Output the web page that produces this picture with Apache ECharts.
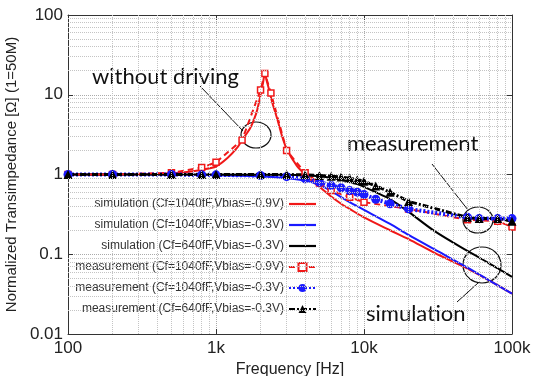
<!DOCTYPE html>
<html><head><meta charset="utf-8">
<script src="https://cdn.jsdelivr.net/npm/echarts@6/dist/echarts.min.js"></script>
<style>html,body{margin:0;padding:0;background:#fff}#c{width:534px;height:376px}</style>
</head><body><div id="c"></div>
<script>
// ---- data ----
const simFreqRed = [100,300,500,700,800,1000,1200,1400,1500,1600,1700,1800,1900,2000,2070,2140,2200,2300,2400,2600,2800,3000,3500,4000,4500,5000,6000,7000,8000,10000,15000,20000,30000,50000,70000,100000];
const simRed     = [1,1.01,1.04,1.1,1.15,1.26,1.62,2.2,2.7,3.2,3.8,4.8,6.5,10,13.5,18.5,15,11,8,4.9,3.0,2.1,1.3,1.0,0.82,0.7,0.53,0.43,0.37,0.29,0.2,0.155,0.104,0.066,0.047,0.032];

const simFreqBlue = [100,500,1000,2000,3000,4000,5000,6000,7000,8000,10000,15000,20000,30000,50000,70000,100000];
const simBlue     = [1,0.995,0.98,0.95,0.9,0.84,0.74,0.62,0.52,0.45,0.36,0.24,0.175,0.115,0.068,0.047,0.032];

const simFreqBlack = [100,1000,3000,5000,7000,9000,10000,12000,15000,20000,30000,50000,70000,100000];
const simBlack     = [1,1,0.99,0.95,0.86,0.76,0.7,0.6,0.49,0.34,0.195,0.11,0.077,0.052];

const measFreqRed = [100,200,500,800,1000,1500,2000,2140,2350,3000,4000,5000,6000,8000,10000,20000,50000,80000,100000];
const measRed     = [1,1,1.05,1.22,1.42,2.7,11.5,18.5,10.5,2.0,1.05,0.78,0.63,0.52,0.45,0.37,0.27,0.26,0.22];

const measFreq = [100,200,500,800,1000,2000,3000,4000,5000,6000,7000,8000,9000,10000,12000,15000,20000,50000,60000,80000,100000];
const measBlue  = [1,1,1,0.99,0.99,0.97,0.94,0.88,0.8,0.73,0.68,0.63,0.6,0.56,0.49,0.43,0.37,0.29,0.28,0.28,0.28];
const measBlack = [1,1,1,1,1,1,1,0.99,0.97,0.95,0.93,0.9,0.86,0.82,0.72,0.6,0.46,0.29,0.28,0.28,0.26];

const xTickLabels = {100:'100',1000:'1k',10000:'10k',100000:'100k'};
const seriesNames = [
  'simulation (Cf=1040fF,Vbias=-0.9V)',
  'simulation (Cf=1040fF,Vbias=-0.3V)',
  'simulation (Cf=640fF,Vbias=-0.3V)',
  'measurement (Cf=1040fF,Vbias=-0.9V)',
  'measurement (Cf=1040fF,Vbias=-0.3V)',
  'measurement (Cf=640fF,Vbias=-0.3V)'
];

// ---- build ----
const pairs = (xs, ys) => xs.map((x, i) => [x, ys[i]]);
const minorX = [], minorY = [];
[100,1000,10000].forEach(d => { for (let k = 2; k <= 9; k++) minorX.push(d*k); });
[0.01,0.1,1,10].forEach(d => { for (let k = 2; k <= 9; k++) minorY.push(+(d*k).toPrecision(3)); });

const RED = '#f01818', BLUE = '#1a1aff', BLACK = '#000';
const FONT = 'Liberation Sans';
const LINE_ICON = 'path://M0,0L27,0L27,2.2L0,2.2Z';

const chart = echarts.init(document.getElementById('c'), null, {renderer:'canvas'});
const axisCommon = {
  type:'log', logBase:10,
  axisLine:{show:true, onZero:false, lineStyle:{color:'#333', width:1}},
  axisTick:{show:true, inside:true, length:5, lineStyle:{color:'#333'}},
};
chart.setOption({
  animation:false,
  backgroundColor:'#fff',
  grid:{left:68, right:22, top:15, bottom:42, containLabel:false, outerBoundsMode:'none'},
  xAxis:[
    Object.assign({}, axisCommon, {
      min:100, max:100000, position:'bottom',
      axisLabel:{fontSize:17, color:'#222', fontFamily:FONT, margin:6,
        formatter: v => xTickLabels[Math.round(v)] || ''},
      splitLine:{show:true, lineStyle:{type:'dotted', color:'#aaa', width:1}},
      name:'Frequency [Hz]', nameLocation:'middle', nameGap:25,
      nameTextStyle:{fontSize:16, color:'#222', fontFamily:FONT}
    }),
    Object.assign({}, axisCommon, {
      min:100, max:100000, position:'top',
      axisLabel:{show:false}, splitLine:{show:false}
    })
  ],
  yAxis:[
    Object.assign({}, axisCommon, {
      min:0.01, max:100, position:'left',
      axisLabel:{fontSize:17, color:'#222', fontFamily:FONT, margin:5},
      splitLine:{show:true, lineStyle:{type:'dotted', color:'#aaa', width:1}},
      name:'Normalized Transimpedance [\u03A9] (1=50M)', nameLocation:'middle', nameGap:30,
      nameTextStyle:{fontSize:15, color:'#222', fontFamily:FONT}
    }),
    Object.assign({}, axisCommon, {
      min:0.01, max:100, position:'right',
      axisLabel:{show:false}, splitLine:{show:false}
    })
  ],
  legend:{
    data:[
      {name:seriesNames[0], icon:LINE_ICON},
      {name:seriesNames[1], icon:LINE_ICON},
      {name:seriesNames[2], icon:LINE_ICON},
      {name:seriesNames[3]},
      {name:seriesNames[4]},
      {name:seriesNames[5]}
    ],
    orient:'vertical', right:217, top:197,
    itemWidth:27, itemHeight:10, itemGap:7, align:'right',
    textStyle:{fontSize:12, lineHeight:14, color:'#333', fontFamily:FONT},
    backgroundColor:'transparent', padding:0
  },
  series:[
    {type:'line', name:'grid', data:[], silent:true,
     markLine:{silent:true, symbol:['none','none'], label:{show:false}, animation:false,
       lineStyle:{type:'dotted', color:'#c4c4c4', width:1},
       data: minorX.map(v => ({xAxis:v})).concat(minorY.map(v => ({yAxis:v})))}},
    {type:'line', name:seriesNames[0], data:pairs(simFreqRed, simRed), smooth:0.3, showSymbol:false, symbol:'none',
     lineStyle:{color:RED, width:2}, itemStyle:{color:RED}},
    {type:'line', name:seriesNames[1], data:pairs(simFreqBlue, simBlue), smooth:0.3, showSymbol:false, symbol:'none',
     lineStyle:{color:BLUE, width:2}, itemStyle:{color:BLUE}},
    {type:'line', name:seriesNames[2], data:pairs(simFreqBlack, simBlack), smooth:0.3, showSymbol:false, symbol:'none',
     lineStyle:{color:BLACK, width:2}, itemStyle:{color:BLACK}},
    {type:'line', name:seriesNames[3], data:pairs(measFreqRed, measRed), symbol:'rect', symbolSize:6,
     lineStyle:{color:RED, width:2, type:[6,4]}, itemStyle:{color:'#fff', borderColor:RED, borderWidth:1.5}},
    {type:'line', name:seriesNames[4], data:pairs(measFreq, measBlue), symbol:'circle', symbolSize:9,
     lineStyle:{color:BLUE, width:4, type:[2,2]}, itemStyle:{color:BLUE}},
    {type:'line', name:seriesNames[5], data:pairs(measFreq, measBlack), symbol:'triangle', symbolSize:9,
     lineStyle:{color:BLACK, width:3, type:[6,2,2,2]}, itemStyle:{color:BLACK}}
  ],
  graphic:[
    {type:'text', x:92, y:77, style:{text:'without driving', font:'22px Lato', fill:'#111', verticalAlign:'middle'}},
    {type:'text', x:347, y:144, style:{text:'measurement', font:'22px Lato', fill:'#111', verticalAlign:'middle'}},
    {type:'text', x:366, y:314, style:{text:'simulation', font:'22px Lato', fill:'#111', verticalAlign:'middle'}},
    {type:'ellipse', shape:{cx:256, cy:135, rx:15, ry:13}, style:{fill:'none', stroke:'#111', lineWidth:1.2}},
    {type:'ellipse', shape:{cx:478, cy:220, rx:15, ry:13}, style:{fill:'none', stroke:'#111', lineWidth:1.2}},
    {type:'ellipse', shape:{cx:482, cy:265, rx:19, ry:18}, style:{fill:'none', stroke:'#111', lineWidth:1.2}},
    {type:'line', shape:{x1:200, y1:86, x2:243, y2:131}, style:{stroke:'#111', lineWidth:1}},
    {type:'line', shape:{x1:432, y1:164, x2:468, y2:210}, style:{stroke:'#111', lineWidth:1}},
    {type:'line', shape:{x1:457, y1:302, x2:478, y2:283}, style:{stroke:'#111', lineWidth:1}}
  ]
});
</script></body></html>
